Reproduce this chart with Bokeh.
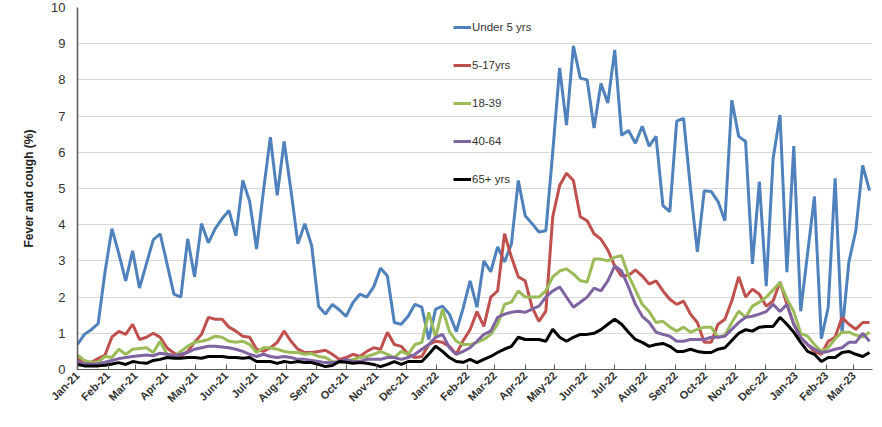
import pandas as pd
from datetime import datetime
from bokeh.plotting import figure
from bokeh.models import Range1d, Legend, LegendItem, MonthsTicker, DatetimeTickFormatter, SingleIntervalTicker
from bokeh.embed import file_html
from bokeh.resources import INLINE

start_date = "2021-01-01"
n_weeks = 116
dates = pd.date_range(start_date, periods=n_weeks, freq="7D")

series_names = ["Under 5 yrs", "5-17yrs", "18-39", "40-64", "65+ yrs"]

under5 = [
    0.69, 0.97, 1.10, 1.27, 2.70, 3.89, 3.20, 2.45, 3.28, 2.25,
    2.92, 3.58, 3.75, 2.92, 2.08, 2.00, 3.61, 2.56, 4.03, 3.50,
    3.89, 4.17, 4.39, 3.69, 5.22, 4.64, 3.33, 4.94, 6.42, 4.81,
    6.30, 4.94, 3.47, 4.03, 3.42, 1.75, 1.53, 1.80, 1.65, 1.47,
    1.85, 2.08, 2.00, 2.28, 2.80, 2.58, 1.30, 1.25, 1.47, 1.80,
    1.72, 0.83, 1.67, 1.75, 1.53, 1.05, 1.70, 2.45, 1.72, 3.00,
    2.70, 3.39, 2.97, 3.47, 5.22, 4.25, 4.03, 3.80, 3.83, 6.00,
    8.33, 6.75, 8.94, 8.05, 8.00, 6.67, 7.90, 7.36, 8.83, 6.47,
    6.60, 6.25, 6.72, 6.17, 6.44, 4.53, 4.36, 6.86, 6.94, 5.00,
    3.25, 4.94, 4.92, 4.64, 4.11, 7.44, 6.44, 6.30, 2.92, 5.19,
    2.30, 5.83, 7.03, 2.69, 6.17, 1.61, 3.20, 4.78, 0.85, 1.72,
    5.28, 1.00, 2.97, 3.83, 5.64, 4.94,
]

age_5_17 = [
    0.30, 0.20, 0.20, 0.30, 0.40, 0.90, 1.05, 0.97, 1.25, 0.83,
    0.89, 1.00, 0.89, 0.60, 0.45, 0.36, 0.50, 0.75, 0.97, 1.44,
    1.39, 1.39, 1.17, 1.06, 0.92, 0.89, 0.56, 0.50, 0.60, 0.75,
    1.06, 0.78, 0.56, 0.47, 0.47, 0.50, 0.53, 0.42, 0.28, 0.33,
    0.42, 0.36, 0.50, 0.60, 0.56, 1.03, 0.69, 0.64, 0.42, 0.33,
    0.36, 0.69, 0.78, 0.75, 0.64, 0.42, 0.80, 1.10, 1.60, 1.19,
    2.00, 2.17, 3.75, 3.11, 2.56, 2.45, 1.72, 1.33, 1.61, 4.22,
    5.08, 5.42, 5.22, 4.22, 4.11, 3.75, 3.60, 3.30, 2.86, 2.58,
    2.60, 2.75, 2.58, 2.36, 2.45, 2.17, 1.94, 1.80, 1.89, 1.53,
    1.30, 0.75, 0.75, 1.25, 1.39, 1.90, 2.56, 2.00, 2.22, 2.08,
    1.75, 1.89, 2.42, 1.80, 1.25, 0.89, 0.69, 0.50, 0.42, 0.78,
    0.89, 1.44, 1.25, 1.11, 1.30, 1.30,
]

age_18_39 = [
    0.40, 0.25, 0.20, 0.20, 0.36, 0.33, 0.56, 0.42, 0.56, 0.58,
    0.60, 0.47, 0.78, 0.42, 0.36, 0.50, 0.64, 0.75, 0.78, 0.83,
    0.92, 0.89, 0.78, 0.75, 0.78, 0.69, 0.47, 0.60, 0.60, 0.56,
    0.50, 0.47, 0.47, 0.42, 0.44, 0.36, 0.33, 0.22, 0.19, 0.22,
    0.28, 0.33, 0.36, 0.42, 0.50, 0.42, 0.33, 0.50, 0.42, 0.69,
    0.75, 1.58, 0.89, 1.67, 1.05, 0.78, 0.69, 0.69, 0.75, 0.83,
    0.97, 1.25, 1.80, 1.86, 2.17, 2.00, 2.00, 2.00, 2.17, 2.56,
    2.72, 2.78, 2.64, 2.45, 2.42, 3.05, 3.05, 3.00, 3.10, 3.14,
    2.60, 2.20, 1.80, 1.60, 1.30, 1.33, 1.17, 1.06, 1.17, 1.03,
    1.11, 1.17, 1.17, 0.89, 0.95, 1.30, 1.61, 1.44, 1.75, 1.86,
    2.00, 2.20, 2.40, 1.95, 1.60, 1.00, 0.92, 0.69, 0.50, 0.60,
    0.85, 1.03, 1.03, 0.95, 0.90, 1.03,
]

age_40_64 = [
    0.22, 0.15, 0.15, 0.15, 0.20, 0.25, 0.30, 0.33, 0.36, 0.38,
    0.40, 0.38, 0.45, 0.42, 0.38, 0.42, 0.47, 0.56, 0.60, 0.64,
    0.64, 0.62, 0.60, 0.56, 0.50, 0.42, 0.36, 0.42, 0.36, 0.33,
    0.36, 0.33, 0.28, 0.28, 0.25, 0.22, 0.19, 0.19, 0.22, 0.28,
    0.22, 0.22, 0.28, 0.28, 0.28, 0.33, 0.33, 0.28, 0.33, 0.42,
    0.56, 0.69, 0.89, 0.97, 0.60, 0.42, 0.50, 0.60, 0.78, 0.97,
    1.06, 1.44, 1.53, 1.58, 1.61, 1.58, 1.67, 1.75, 2.00, 2.17,
    2.28, 2.00, 1.72, 1.86, 2.00, 2.25, 2.17, 2.45, 2.86, 2.72,
    2.28, 1.80, 1.47, 1.30, 1.03, 0.97, 0.92, 0.78, 0.78, 0.83,
    0.83, 0.83, 0.89, 0.89, 0.92, 1.11, 1.30, 1.44, 1.47, 1.53,
    1.60, 1.80, 1.60, 1.80, 1.25, 0.89, 0.69, 0.56, 0.47, 0.50,
    0.56, 0.60, 0.75, 0.75, 1.00, 0.78,
]

age_65_plus = [
    0.14, 0.10, 0.10, 0.10, 0.12, 0.15, 0.19, 0.14, 0.22, 0.19,
    0.17, 0.25, 0.28, 0.33, 0.31, 0.31, 0.33, 0.33, 0.31, 0.36,
    0.36, 0.36, 0.33, 0.33, 0.31, 0.33, 0.22, 0.22, 0.22, 0.17,
    0.22, 0.19, 0.22, 0.19, 0.19, 0.14, 0.08, 0.11, 0.22, 0.20,
    0.17, 0.19, 0.17, 0.14, 0.08, 0.14, 0.22, 0.14, 0.22, 0.22,
    0.22, 0.42, 0.64, 0.50, 0.33, 0.22, 0.20, 0.28, 0.19, 0.28,
    0.36, 0.47, 0.56, 0.64, 0.89, 0.83, 0.83, 0.83, 0.78, 1.11,
    0.89, 0.78, 0.89, 0.97, 0.97, 1.00, 1.10, 1.25, 1.39, 1.25,
    1.03, 0.83, 0.75, 0.64, 0.69, 0.72, 0.64, 0.50, 0.50, 0.56,
    0.50, 0.47, 0.47, 0.56, 0.60, 0.80, 1.00, 1.10, 1.06, 1.17,
    1.19, 1.19, 1.44, 1.25, 1.03, 0.75, 0.50, 0.42, 0.22, 0.33,
    0.33, 0.47, 0.50, 0.42, 0.36, 0.47,
]

series_values = [under5, age_5_17, age_18_39, age_40_64, age_65_plus]
series_colors = ["#4F81BD", "#C0504D", "#9BBB59", "#8064A2", "#000000"]

FONT = "Liberation Sans"

p = figure(
    width=874, height=411,
    x_axis_type="datetime",
    x_range=Range1d(datetime(2021, 1, 1), datetime(2023, 3, 20)),
    y_range=Range1d(0, 10),
    output_backend="svg", toolbar_location=None,
    min_border_left=77, min_border_right=2, min_border_top=7, min_border_bottom=40,
)
p.outline_line_color = None
p.background_fill_color = "white"
p.border_fill_color = "white"

items = []
for name, vals, col in zip(series_names, series_values, series_colors):
    r = p.line(dates, vals, line_color=col, line_width=3)
    items.append(LegendItem(label=name, renderers=[r]))

legend = Legend(
    items=items,
    location=(376, 180),
    orientation="vertical",
    glyph_width=18, glyph_height=20, label_height=20,
    spacing=18, padding=0, margin=0,
    label_standoff=1,
    label_text_font=FONT, label_text_font_size="11.5px", label_text_color="#333333",
    background_fill_alpha=0, border_line_alpha=0,
)
p.add_layout(legend, "center")

p.xgrid.visible = False
p.ygrid.grid_line_color = "#d9d9d9"
p.ygrid.grid_line_width = 1

p.yaxis.ticker = SingleIntervalTicker(interval=1, num_minor_ticks=0)
p.yaxis.axis_label = "Fever and cough (%)"
p.yaxis.axis_label_text_font = FONT
p.yaxis.axis_label_text_font_size = "12px"
p.yaxis.axis_label_text_font_style = "bold"
p.yaxis.axis_label_text_color = "#222222"
p.yaxis.axis_label_standoff = 12
p.yaxis.major_label_text_font = FONT
p.yaxis.major_label_text_font_size = "13px"
p.yaxis.major_label_text_color = "#333333"
p.yaxis.major_label_standoff = 12
p.yaxis.major_tick_in = 0
p.yaxis.major_tick_out = 0
p.yaxis.minor_tick_line_color = None
p.yaxis.axis_line_color = "#595959"
p.yaxis.axis_line_width = 1.5

p.xaxis.ticker = MonthsTicker(months=list(range(12)))
p.xaxis.formatter = DatetimeTickFormatter(days="%b-%y", months="%b-%y", years="%b-%y")
p.xaxis.major_label_orientation = 0.785
p.xaxis.major_label_text_font = FONT
p.xaxis.major_label_text_font_size = "11px"
p.xaxis.major_label_text_font_style = "bold"
p.xaxis.major_label_text_color = "#333333"
p.xaxis.major_label_standoff = 4
p.xaxis.major_tick_in = 5
p.xaxis.major_tick_out = 0
p.xaxis.minor_tick_line_color = None
p.xaxis.axis_line_color = "#595959"
p.xaxis.major_tick_line_color = "#595959"
p.xaxis.axis_line_width = 1.2

open("out.html", "w").write(file_html(p, INLINE))
